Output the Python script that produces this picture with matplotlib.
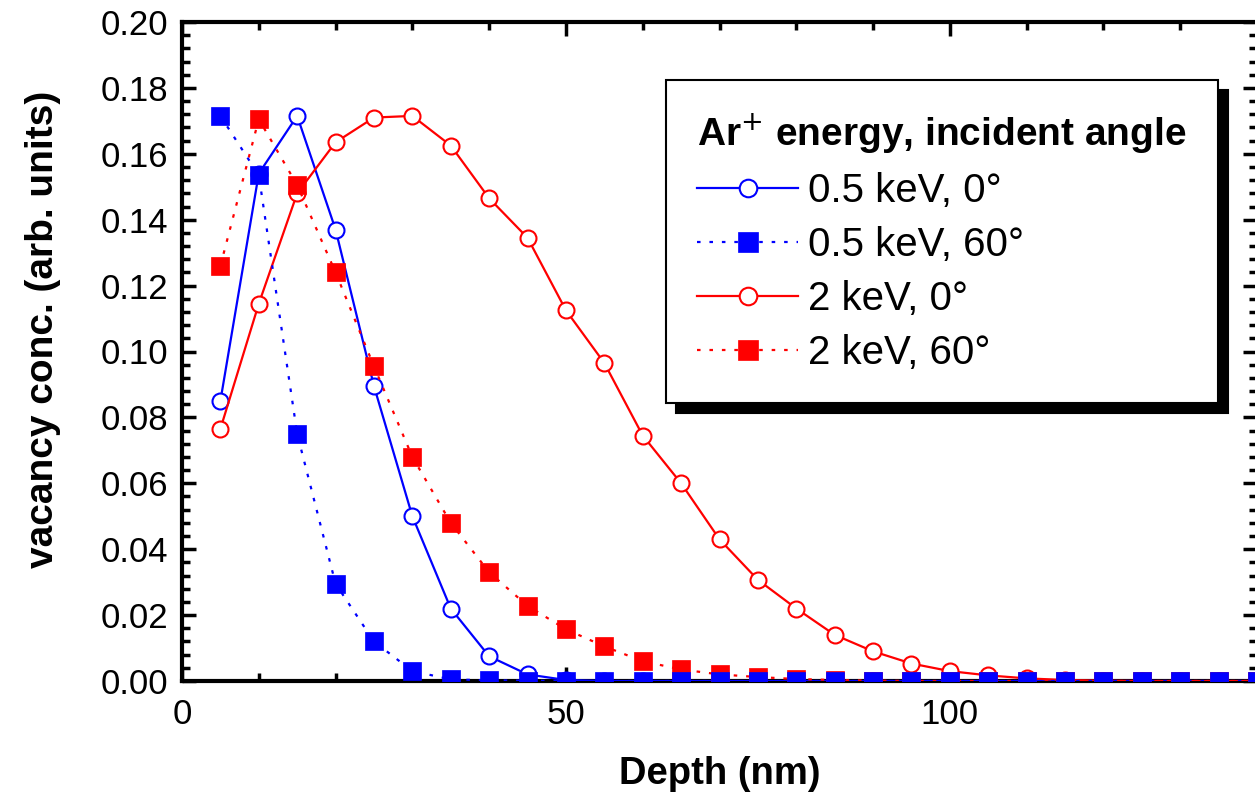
#!/usr/bin/env python3

import matplotlib
matplotlib.use("Agg")
import matplotlib.pyplot as plt
from matplotlib.ticker import MultipleLocator, FormatStrFormatter

plt.rcParams["font.family"] = ["Liberation Sans", "DejaVu Sans"]

# depth grid (nm)
depth = [5, 10, 15, 20, 25, 30, 35, 40, 45, 50, 55, 60, 65, 70, 75, 80, 85,
         90, 95, 100, 105, 110, 115, 120, 125, 130, 135, 140]

# vacancy concentration (arb. units)
e05_a0 = [0.085, 0.154, 0.1715, 0.137, 0.0895, 0.050, 0.022, 0.0075, 0.002,
          0.0003, 0, 0, 0, 0, 0, 0, 0, 0, 0, 0, 0, 0, 0, 0, 0, 0, 0, 0]
e05_a60 = [0.1715, 0.1535, 0.075, 0.0295, 0.012, 0.003, 0.0005, 0.0002, 0.0001,
           0, 0, 0, 0, 0, 0, 0, 0, 0, 0, 0, 0, 0, 0, 0, 0, 0, 0, 0]
e2_a0 = [0.0765, 0.1145, 0.148, 0.1635, 0.171, 0.1715, 0.1625, 0.1465, 0.1345,
         0.1125, 0.0965, 0.0745, 0.060, 0.043, 0.0307, 0.022, 0.014, 0.009,
         0.0053, 0.003, 0.0017, 0.0008, 0.0003, 0.0001, 0, 0, 0, 0]
e2_a60 = [0.126, 0.1705, 0.1505, 0.124, 0.0955, 0.068, 0.048, 0.033, 0.0228,
          0.0157, 0.0105, 0.006, 0.0035, 0.002, 0.0012, 0.0006, 0.0003, 0.0001,
          0, 0, 0, 0, 0, 0, 0, 0, 0, 0]

labels = ["0.5 keV, 0°", "0.5 keV, 60°", "2 keV, 0°", "2 keV, 60°"]

fig = plt.figure(figsize=(12.55, 7.94), dpi=100)
ax = fig.add_axes([182 / 1255, 113 / 794, 1075 / 1255, 659 / 794])

dots = (0, (1.6, 4))
ax.plot(depth, e05_a0, color="blue", lw=1.6, marker="o", ms=11.5,
        mfc="white", mec="blue", mew=1.5, label=labels[0], zorder=3)
ax.plot(depth, e2_a0, color="red", lw=1.6, marker="o", ms=11.5,
        mfc="white", mec="red", mew=1.5, label=labels[2], zorder=4)
ax.plot(depth, e2_a60, color="red", lw=1.6, ls=dots, marker="s", ms=12.5,
        mfc="red", mec="red", mew=0.5, label=labels[3], zorder=5)
ax.plot(depth, e05_a60, color="blue", lw=1.6, ls=dots, marker="s", ms=12.5,
        mfc="blue", mec="blue", mew=0.5, label=labels[1], zorder=6)

ax.set_xlim(0, 140)
ax.set_ylim(0, 0.20)
ax.xaxis.set_major_locator(MultipleLocator(50))
ax.xaxis.set_minor_locator(MultipleLocator(10))
ax.yaxis.set_major_locator(MultipleLocator(0.02))
ax.yaxis.set_minor_locator(MultipleLocator(0.004))
ax.yaxis.set_major_formatter(FormatStrFormatter("%.2f"))

for s in ax.spines.values():
    s.set_linewidth(3)
ax.tick_params(which="both", direction="in", top=True, right=True,
               width=2.5, labelsize=25)
ax.tick_params(which="major", length=10)
ax.tick_params(which="minor", length=6)
ax.tick_params(axis="y", pad=10)
ax.tick_params(axis="x", pad=12)

ax.set_xlabel("Depth (nm)", fontsize=27.5, fontweight="bold", labelpad=18)
ax.set_ylabel("vacancy conc. (arb. units)", fontsize=28, fontweight="bold")
ax.yaxis.set_label_coords(-0.113, 0.533)

handles, labs = ax.get_legend_handles_labels()
order = [labs.index(l) for l in labels]
leg = ax.legend([handles[i] for i in order], [labs[i] for i in order],
                loc="upper right", bbox_to_anchor=(1218 / 1255, 1 - 80 / 794),
                bbox_transform=fig.transFigure, borderaxespad=0,
                fontsize=29, numpoints=1, markerscale=1.1,
                handlelength=2.5, handletextpad=0.25, labelspacing=0.4,
                borderpad=0.78, fancybox=False, framealpha=1,
                edgecolor="black", title="Ar$^{+}$ energy, incident angle",
                title_fontproperties={"size": 28, "weight": "bold"},
                alignment="left",
                shadow={"ox": 7, "oy": -7, "color": "black", "alpha": 1})
leg.get_frame().set_linewidth(1.5)
leg.set_zorder(10)

fig.savefig("out.png", dpi=100)
